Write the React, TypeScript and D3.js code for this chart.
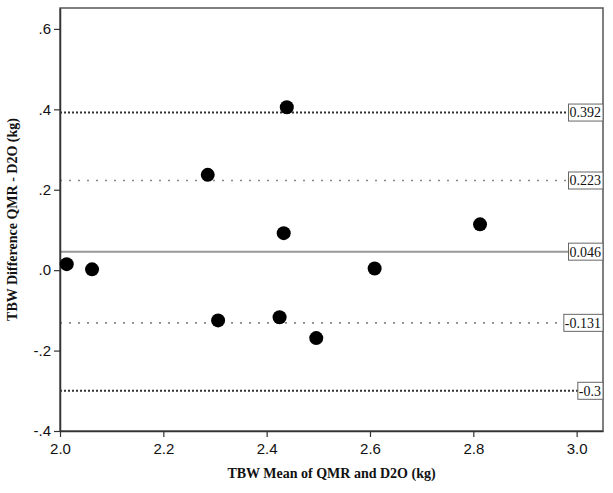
import { useRef, useEffect } from 'react';
import * as d3 from 'd3';

// Bland-Altman points: mean of QMR and D2O vs difference
const meanValues = [2.013, 2.062, 2.286, 2.306, 2.425, 2.433, 2.439, 2.496, 2.609, 2.813];
const diffValues = [0.015, 0.002, 0.237, -0.125, -0.117, 0.092, 0.405, -0.169, 0.004, 0.114];

// reference lines: mean bias, +/- 1SD, +/- 2SD (limits of agreement)
const refValues = [0.392, 0.223, 0.046, -0.131, -0.3];
const refLabels = ['0.392', '0.223', '0.046', '-0.131', '-0.3'];
const refKinds = ['loa', 'sd', 'mean', 'sd', 'loa'];

const xTicks = [2.0, 2.2, 2.4, 2.6, 2.8, 3.0];
const yTicks = [-0.4, -0.2, 0.0, 0.2, 0.4, 0.6];
const yTickLabels = ['-.4', '-.2', '.0', '.2', '.4', '.6'];

const App = () => {
  const svgRef = useRef<SVGSVGElement>(null);

  useEffect(() => {
    const svg = d3.select(svgRef.current);
    svg.selectAll('*').remove();

    const margin = { top: 8, right: 10, bottom: 62, left: 60 };
    const width = 613;
    const height = 493;

    const x = d3.scaleLinear()
      .domain([2.0, 3.051])
      .range([margin.left, width - margin.right]);

    const y = d3.scaleLinear()
      .domain([-0.4, 0.652])
      .range([height - margin.bottom, margin.top]);

    // reference lines
    const refStyle = (k: string) => {
      if (k === 'loa') return { stroke: '#333', dash: '2,2', w: 2 };
      if (k === 'sd') return { stroke: '#888', dash: '2,7', w: 1.6 };
      return { stroke: '#999', dash: null, w: 2 };
    };

    refValues.forEach((v, i) => {
      const s = refStyle(refKinds[i]);
      svg.append('line')
        .attr('x1', x(2.0)).attr('x2', x(3.051))
        .attr('y1', y(v)).attr('y2', y(v))
        .attr('stroke', s.stroke)
        .attr('stroke-width', s.w)
        .attr('stroke-dasharray', s.dash);
    });

    // frame
    svg.append('rect')
      .attr('x', margin.left)
      .attr('y', margin.top)
      .attr('width', width - margin.left - margin.right)
      .attr('height', height - margin.top - margin.bottom)
      .attr('fill', 'none')
      .attr('stroke', '#555')
      .attr('stroke-width', 1.5);

    // reference line labels
    refValues.forEach((v, i) => {
      const g = svg.append('g');
      const t = g.append('text')
        .attr('x', x(3.051) - 2)
        .attr('y', y(v))
        .attr('dy', '0.35em')
        .attr('text-anchor', 'end')
        .attr('font-family', 'Liberation Serif, serif')
        .attr('font-size', 14)
        .attr('fill', '#111')
        .text(refLabels[i]);
      const bb = (t.node() as SVGTextElement).getBBox();
      g.insert('rect', 'text')
        .attr('x', bb.x - 1)
        .attr('y', y(v) - 8.5)
        .attr('width', x(3.051) - bb.x + 1)
        .attr('height', 17)
        .attr('fill', '#fff')
        .attr('stroke', '#666')
        .attr('stroke-width', 1);
    });

    // axes
    const xAxis = d3.axisBottom(x)
      .tickValues(xTicks)
      .tickFormat(d3.format('.1f'))
      .tickSize(6)
      .tickSizeOuter(0);

    const yAxis = d3.axisLeft(y)
      .tickValues(yTicks)
      .tickFormat((d, i) => yTickLabels[i])
      .tickSize(6)
      .tickSizeOuter(0);

    const gx = svg.append('g')
      .attr('transform', `translate(0,${height - margin.bottom})`)
      .call(xAxis);
    const gy = svg.append('g')
      .attr('transform', `translate(${margin.left},0)`)
      .call(yAxis);

    [gx, gy].forEach(g => {
      g.select('.domain').attr('stroke', '#333').attr('stroke-width', 1.5);
      g.selectAll('.tick line').attr('stroke', '#333').attr('stroke-width', 1.2);
      g.selectAll('.tick text')
        .attr('font-family', 'Liberation Sans, Arial, sans-serif')
        .attr('font-size', 15)
        .attr('fill', '#111');
    });
    gx.selectAll('.tick text').attr('dy', '0.95em');

    // points
    svg.append('g')
      .selectAll('circle')
      .data(meanValues.map((m, i) => ({ m, d: diffValues[i] })))
      .join('circle')
      .attr('cx', d => x(d.m))
      .attr('cy', d => y(d.d))
      .attr('r', 7)
      .attr('fill', '#000');

    // axis titles
    svg.append('text')
      .attr('x', (margin.left + width - margin.right) / 2)
      .attr('y', 478)
      .attr('text-anchor', 'middle')
      .attr('font-family', 'Liberation Serif, serif')
      .attr('font-weight', 'bold')
      .attr('font-size', 14)
      .attr('fill', '#111')
      .text('TBW Mean of QMR and D2O (kg)');

    svg.append('text')
      .attr('transform', `translate(17,${(margin.top + height - margin.bottom) / 2}) rotate(-90)`)
      .attr('text-anchor', 'middle')
      .attr('font-family', 'Liberation Serif, serif')
      .attr('font-weight', 'bold')
      .attr('font-size', 14)
      .attr('fill', '#111')
      .text('TBW Difference QMR - D2O (kg)');
  }, []);

  return (
    <svg
      ref={svgRef}
      width={613}
      height={493}
      style={{ position: 'absolute', left: 0, top: 0, background: '#fff' }}
    />
  );
};

export default App;
